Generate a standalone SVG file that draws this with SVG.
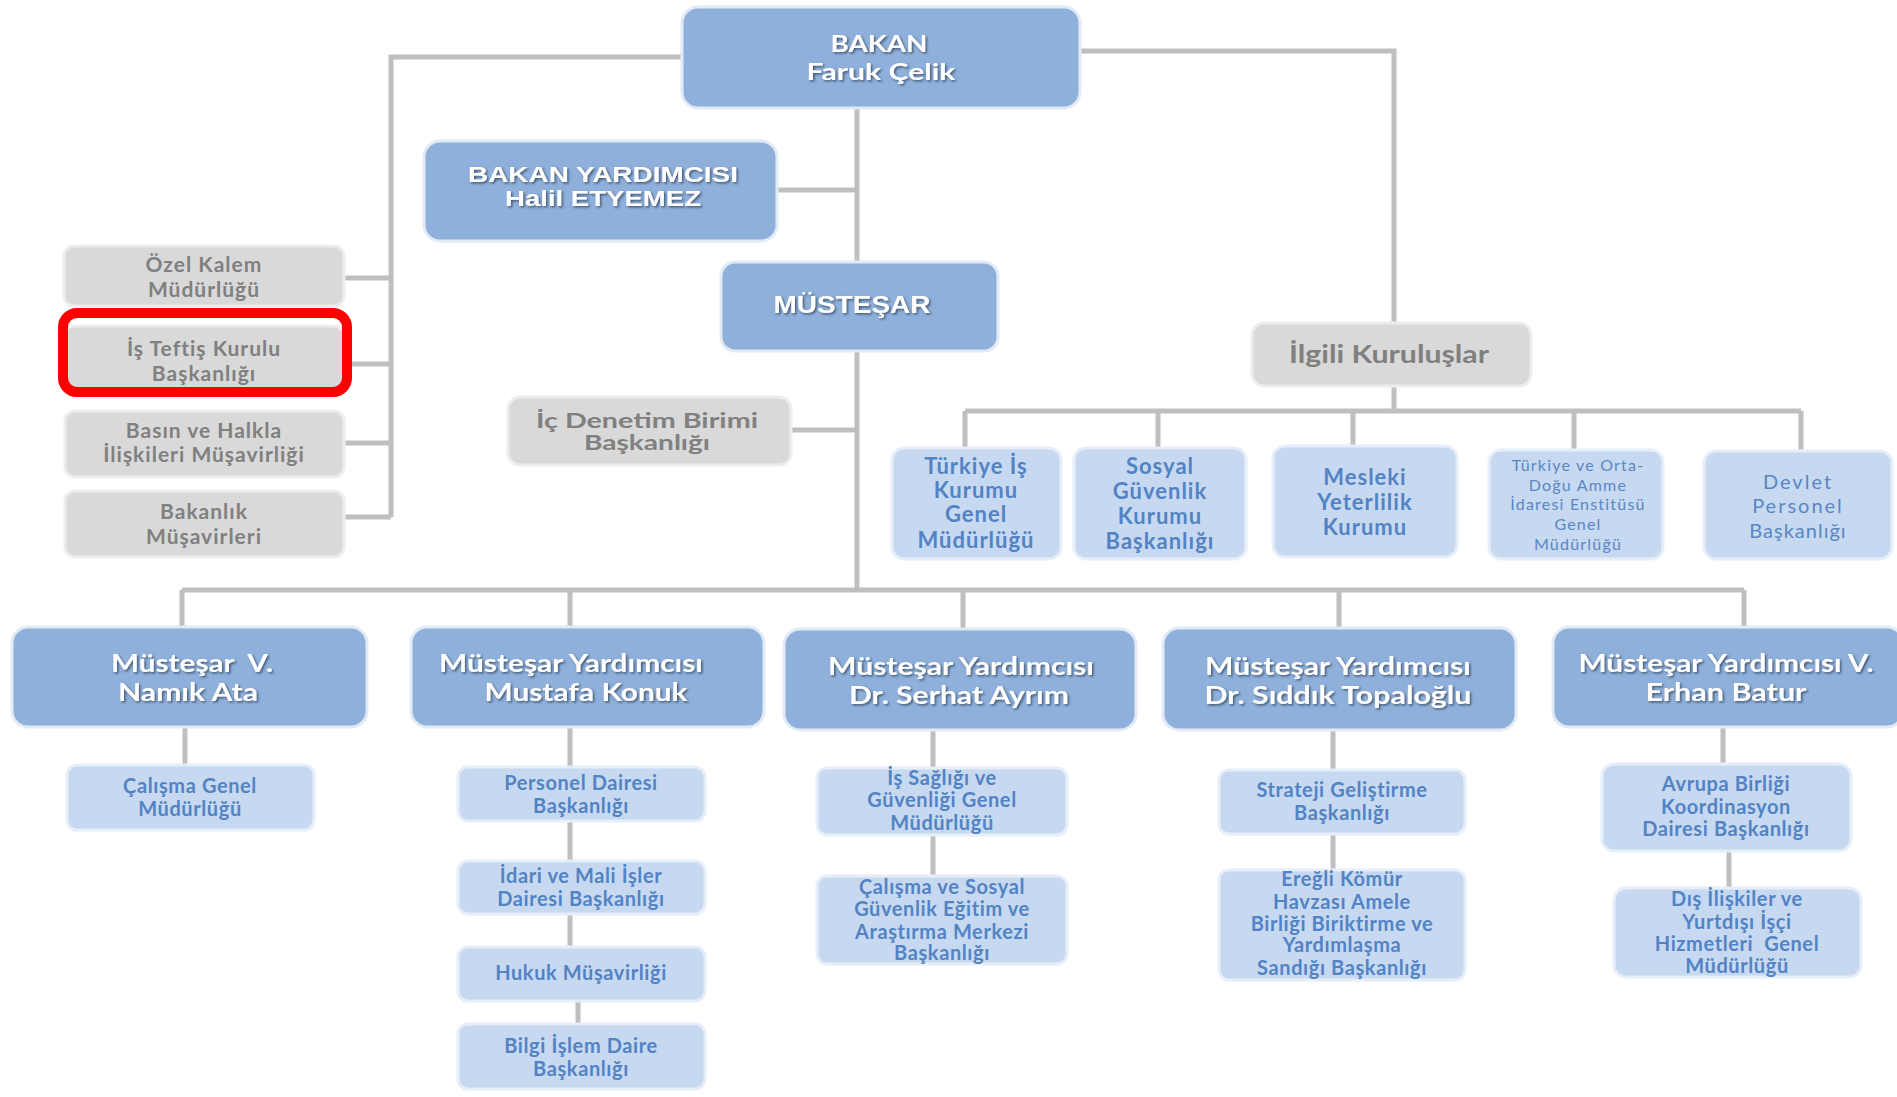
<svg xmlns="http://www.w3.org/2000/svg" width="1897" height="1097" viewBox="0 0 1897 1097">
<defs>
<filter id="sh" x="-10%" y="-20%" width="120%" height="150%">
<feDropShadow dx="1.5" dy="1.5" stdDeviation="1" flood-color="#2a3a50" flood-opacity="0.75"/>
</filter>
<style>
.conn{stroke:#bfbfbf;stroke-width:5;fill:none}
.main{fill:#8fb0db;stroke:#e2eaf5;stroke-width:3}
.sub{fill:#c6d9f1;stroke:#e6eef9;stroke-width:3}
.gray{fill:#d9d9d9;stroke:#ededed;stroke-width:3}
text{font-family:Lato,"Liberation Sans",sans-serif;text-anchor:middle}
.tm{font-weight:bold;fill:#fff;font-size:24px;filter:url(#sh)}
.ta{font-family:"Liberation Sans",Arial,sans-serif;font-weight:bold;fill:#fff;filter:url(#sh)}
.ts{font-weight:bold;fill:#5283c4;font-size:20px;letter-spacing:0.6px}
.ti{font-weight:bold;fill:#5283c4;font-size:22px;letter-spacing:1px}
.tt{font-weight:normal;fill:#5a86c2;font-size:16px;letter-spacing:1.2px}
.td{font-weight:normal;fill:#5a86c2;font-size:20px;letter-spacing:2px}
.tg{font-weight:bold;fill:#808080;font-size:21px;letter-spacing:1px}
</style>
</defs>
<rect width="1897" height="1097" fill="#fff"/>
<g id="connectors">
<path class="conn" d="M682 57 H391 V517"/>
<path class="conn" d="M344 278 H391 M344 364 H391 M344 443 H391 M344 517 H391"/>
<path class="conn" d="M857 108 V590"/>
<path class="conn" d="M777 190 H857 M791 430 H857"/>
<path class="conn" d="M1080 51 H1394 V323"/>
<path class="conn" d="M1394 386 V411 M965 411 H1801 M965 411 V448 M1158 411 V448 M1353 411 V446 M1574 411 V450 M1801 411 V451"/>
<path class="conn" d="M182 590 H1744 M182 590 V627 M570 590 V627 M963 590 V629 M1339 590 V628 M1744 590 V627"/>
<path class="conn" d="M185 727 V765"/>
<path class="conn" d="M570 727 V767 M570 821 V861 M570 914 V947 M578 1001 V1024"/>
<path class="conn" d="M933 730 V768 M933 835 V876"/>
<path class="conn" d="M1333 730 V770 M1333 834 V870"/>
<path class="conn" d="M1723 727 V764 M1729 851 V888"/>
</g>
<g id="bakan"><rect class="main" x="682" y="7" width="398" height="101" rx="16"/>
<text class="tm" style="font-size:23px" x="879" y="52" textLength="97" lengthAdjust="spacingAndGlyphs">BAKAN</text><text class="tm" style="font-size:23px" x="881" y="80" textLength="149" lengthAdjust="spacingAndGlyphs">Faruk Çelik</text></g>
<g id="bakan-yardimcisi"><rect class="main" x="424" y="141" width="353" height="100" rx="16"/>
<text class="ta" style="font-size:22px" x="603" y="182" textLength="270" lengthAdjust="spacingAndGlyphs">BAKAN YARDIMCISI</text><text class="ta" style="font-size:22px" x="603" y="206" textLength="196" lengthAdjust="spacingAndGlyphs">Halil ETYEMEZ</text></g>
<g id="mustesar"><rect class="main" x="721" y="262" width="277" height="89" rx="14"/>
<text class="ta" style="font-size:23px" x="852" y="313" textLength="157" lengthAdjust="spacingAndGlyphs">MÜSTEŞAR</text></g>
<g id="ozel-kalem"><rect class="gray" x="64" y="246" width="280" height="60" rx="10"/>
<text class="tg" x="204" y="272">Özel Kalem</text><text class="tg" x="204" y="297">Müdürlüğü</text></g>
<g id="is-teftis"><rect class="gray" x="64" y="326" width="280" height="64" rx="10"/>
<text class="tg" x="204" y="356">İş Teftiş Kurulu</text><text class="tg" x="204" y="381">Başkanlığı</text>
<rect x="63" y="313" width="284" height="79" rx="14" fill="none" stroke="#ff0000" stroke-width="10"/></g>
<g id="basin"><rect class="gray" x="65" y="411" width="279" height="66" rx="10"/>
<text class="tg" x="204" y="438">Basın ve Halkla</text><text class="tg" x="204" y="462">İlişkileri Müşavirliği</text></g>
<g id="bakanlik-musavirleri"><rect class="gray" x="65" y="491" width="279" height="66" rx="10"/>
<text class="tg" x="204" y="519">Bakanlık</text><text class="tg" x="204" y="544">Müşavirleri</text></g>
<g id="ic-denetim"><rect class="gray" x="508" y="397" width="283" height="68" rx="12"/>
<text class="tg" style="font-size:20px;letter-spacing:0" x="647" y="428" textLength="222" lengthAdjust="spacingAndGlyphs">İç Denetim Birimi</text><text class="tg" style="font-size:20px;letter-spacing:0" x="647" y="450" textLength="126" lengthAdjust="spacingAndGlyphs">Başkanlığı</text></g>
<g id="ilgili"><rect class="gray" x="1252" y="323" width="279" height="63" rx="12"/>
<text class="tg" style="font-size:25px;letter-spacing:0" x="1389" y="363" textLength="200" lengthAdjust="spacingAndGlyphs">İlgili Kuruluşlar</text></g>
<g id="iskur"><rect class="sub" x="892" y="448" width="169" height="111" rx="12"/>
<text class="ti" x="976" y="474">Türkiye İş</text><text class="ti" x="976" y="498">Kurumu</text><text class="ti" x="976" y="522">Genel</text><text class="ti" x="976" y="548">Müdürlüğü</text></g>
<g id="sgk"><rect class="sub" x="1074" y="448" width="172" height="111" rx="12"/>
<text class="ti" x="1160" y="474">Sosyal</text><text class="ti" x="1160" y="499">Güvenlik</text><text class="ti" x="1160" y="524">Kurumu</text><text class="ti" x="1160" y="549">Başkanlığı</text></g>
<g id="myk"><rect class="sub" x="1273" y="446" width="184" height="111" rx="12"/>
<text class="ti" x="1365" y="485">Mesleki</text><text class="ti" x="1365" y="510">Yeterlilik</text><text class="ti" x="1365" y="535">Kurumu</text></g>
<g id="todaie"><rect class="sub" x="1489" y="450" width="174" height="109" rx="12"/>
<text class="tt" x="1578" y="471">Türkiye ve Orta-</text><text class="tt" x="1578" y="491">Doğu Amme</text><text class="tt" x="1578" y="510">İdaresi Enstitüsü</text><text class="tt" x="1578" y="530">Genel</text><text class="tt" x="1578" y="550">Müdürlüğü</text></g>
<g id="dpb"><rect class="sub" x="1704" y="451" width="188" height="108" rx="12"/>
<text class="td" x="1798" y="489">Devlet</text><text class="td" x="1798" y="513">Personel</text><text class="td" style="letter-spacing:1px" x="1798" y="538">Başkanlığı</text></g>
<g id="mv-namik"><rect class="main" x="12" y="627" width="355" height="100" rx="16"/>
<text class="tm" x="192" y="672" textLength="162" lengthAdjust="spacingAndGlyphs" xml:space="preserve">Müsteşar  V.</text><text class="tm" x="188" y="701" textLength="140" lengthAdjust="spacingAndGlyphs">Namık Ata</text></g>
<g id="my-mustafa"><rect class="main" x="411" y="627" width="353" height="100" rx="16"/>
<text class="tm" x="571" y="672" textLength="264" lengthAdjust="spacingAndGlyphs">Müsteşar Yardımcısı</text><text class="tm" x="586" y="701" textLength="203" lengthAdjust="spacingAndGlyphs">Mustafa Konuk</text></g>
<g id="my-serhat"><rect class="main" x="784" y="629" width="352" height="101" rx="16"/>
<text class="tm" x="961" y="675" textLength="266" lengthAdjust="spacingAndGlyphs">Müsteşar Yardımcısı</text><text class="tm" x="959" y="704" textLength="220" lengthAdjust="spacingAndGlyphs">Dr. Serhat Ayrım</text></g>
<g id="my-siddik"><rect class="main" x="1163" y="628" width="353" height="102" rx="16"/>
<text class="tm" x="1338" y="675" textLength="266" lengthAdjust="spacingAndGlyphs">Müsteşar Yardımcısı</text><text class="tm" x="1338" y="704" textLength="267" lengthAdjust="spacingAndGlyphs">Dr. Sıddık Topaloğlu</text></g>
<g id="myv-erhan"><rect class="main" x="1553" y="627" width="350" height="100" rx="16"/>
<text class="tm" x="1726" y="672" textLength="295" lengthAdjust="spacingAndGlyphs">Müsteşar Yardımcısı V.</text><text class="tm" x="1726" y="701" textLength="161" lengthAdjust="spacingAndGlyphs">Erhan Batur</text></g>
<g id="calisma-gm"><rect class="sub" x="67" y="765" width="247" height="65" rx="10"/>
<text class="ts" x="190" y="793">Çalışma Genel</text><text class="ts" x="190" y="816">Müdürlüğü</text></g>
<g id="personel"><rect class="sub" x="458" y="767" width="247" height="54" rx="10"/>
<text class="ts" x="581" y="790">Personel Dairesi</text><text class="ts" x="581" y="813">Başkanlığı</text></g>
<g id="idari-mali"><rect class="sub" x="458" y="861" width="247" height="53" rx="10"/>
<text class="ts" x="581" y="883">İdari ve Mali İşler</text><text class="ts" x="581" y="906">Dairesi Başkanlığı</text></g>
<g id="hukuk"><rect class="sub" x="458" y="947" width="247" height="54" rx="10"/>
<text class="ts" x="581" y="980">Hukuk Müşavirliği</text></g>
<g id="bilgi-islem"><rect class="sub" x="458" y="1024" width="247" height="65" rx="10"/>
<text class="ts" x="581" y="1053">Bilgi İşlem Daire</text><text class="ts" x="581" y="1076">Başkanlığı</text></g>
<g id="isg"><rect class="sub" x="817" y="768" width="250" height="67" rx="10"/>
<text class="ts" x="942" y="785">İş Sağlığı ve</text><text class="ts" x="942" y="807">Güvenliği Genel</text><text class="ts" x="942" y="830">Müdürlüğü</text></g>
<g id="casgem"><rect class="sub" x="817" y="876" width="250" height="88" rx="10"/>
<text class="ts" x="942" y="894">Çalışma ve Sosyal</text><text class="ts" x="942" y="916">Güvenlik Eğitim ve</text><text class="ts" x="942" y="939">Araştırma Merkezi</text><text class="ts" x="942" y="960">Başkanlığı</text></g>
<g id="strateji"><rect class="sub" x="1219" y="770" width="246" height="64" rx="10"/>
<text class="ts" x="1342" y="797">Strateji Geliştirme</text><text class="ts" x="1342" y="820">Başkanlığı</text></g>
<g id="eregli"><rect class="sub" x="1219" y="870" width="246" height="110" rx="10"/>
<text class="ts" x="1342" y="886">Ereğli Kömür</text><text class="ts" x="1342" y="909">Havzası Amele</text><text class="ts" x="1342" y="931">Birliği Biriktirme ve</text><text class="ts" x="1342" y="952">Yardımlaşma</text><text class="ts" x="1342" y="975">Sandığı Başkanlığı</text></g>
<g id="avrupa"><rect class="sub" x="1602" y="764" width="249" height="87" rx="12"/>
<text class="ts" x="1726" y="791">Avrupa Birliği</text><text class="ts" x="1726" y="814">Koordinasyon</text><text class="ts" x="1726" y="836">Dairesi Başkanlığı</text></g>
<g id="dis-iliskiler"><rect class="sub" x="1614" y="888" width="247" height="89" rx="12"/>
<text class="ts" x="1737" y="906">Dış İlişkiler ve</text><text class="ts" x="1737" y="929">Yurtdışı İşçi</text><text class="ts" x="1737" y="951" xml:space="preserve">Hizmetleri  Genel</text><text class="ts" x="1737" y="973">Müdürlüğü</text></g>
</svg>
